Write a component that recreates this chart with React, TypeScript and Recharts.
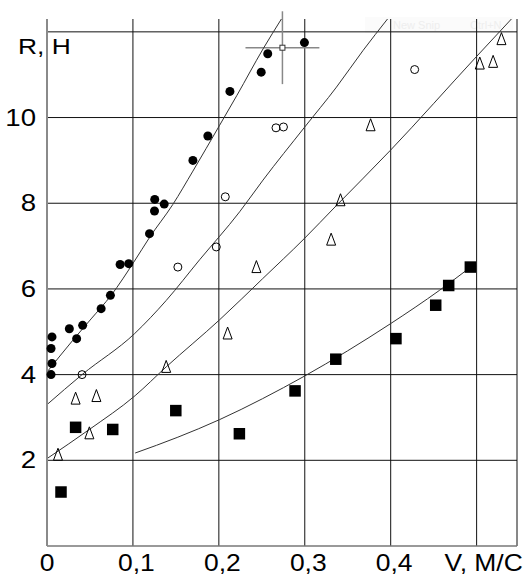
import React from 'react';
import { ComposedChart, Line, Scatter, XAxis, YAxis, ReferenceLine } from 'recharts';

const FONT = '"Liberation Sans", Arial, sans-serif';

const xTicks = [0, 0.1, 0.2, 0.3, 0.4, 0.5];
const xTickLabels = ['0', '0,1', '0,2', '0,3', '0,4', 'V, M/C'];
const yTicks = [2, 4, 6, 8, 10, 12];
const yTickLabels = ['2', '4', '6', '8', '10', 'R, H'];
const xMax = 0.547;
const yMax = 12.3;

// measured points, [V, R]
const filledCircles = [
  [0.0047, 4.0], [0.0058, 4.26], [0.0047, 4.61], [0.0058, 4.88], [0.026, 5.07],
  [0.0345, 4.84], [0.0415, 5.15], [0.063, 5.54], [0.0738, 5.85], [0.0851, 6.57],
  [0.0951, 6.59], [0.1193, 7.29], [0.1251, 7.82], [0.1254, 8.09], [0.1364, 7.98],
  [0.1698, 9.0], [0.1872, 9.57], [0.2129, 10.61], [0.2493, 11.06], [0.2569, 11.49],
  [0.2996, 11.75],
];
const openCircles = [
  [0.0408, 4.0], [0.1523, 6.51], [0.197, 6.98], [0.2075, 8.15], [0.2665, 9.76],
  [0.2752, 9.78], [0.4279, 11.12],
];
const triangles = [
  [0.0128, 2.13], [0.0333, 3.44], [0.0493, 2.63], [0.0575, 3.5], [0.1387, 4.18],
  [0.2102, 4.96], [0.2437, 6.51], [0.3307, 7.15], [0.3416, 8.07], [0.3766, 9.82],
  [0.5037, 11.26], [0.5192, 11.3], [0.5289, 11.83],
];
const squares = [
  [0.0163, 1.26], [0.0333, 2.77], [0.0765, 2.72], [0.1499, 3.16], [0.2239, 2.62],
  [0.2887, 3.62], [0.3361, 4.36], [0.4061, 4.84], [0.4524, 5.62], [0.4675, 6.08],
  [0.4927, 6.51],
];

// fitted curves
const curveCircles = [
  [0, 4.06], [0.03, 4.8], [0.0513, 5.3], [0.0746, 5.85], [0.1018, 6.65], [0.1193, 7.2],
  [0.1464, 7.97], [0.1698, 8.75], [0.2009, 9.82], [0.2211, 10.52], [0.2514, 11.6], [0.2728, 12.3],
];
const curveRings = [
  [0, 3.3], [0.0408, 4.0], [0.1021, 4.96], [0.1387, 5.73], [0.1776, 6.68], [0.2242, 7.8],
  [0.2514, 8.54], [0.2992, 9.76], [0.3369, 10.71], [0.368, 11.57], [0.3963, 12.3],
];
const curveTriangles = [
  [0, 2.04], [0.0493, 2.72], [0.1026, 3.51], [0.1387, 4.18], [0.2009, 5.28], [0.251, 6.24],
  [0.2992, 7.17], [0.3365, 7.94], [0.3999, 9.24], [0.4997, 11.42], [0.5405, 12.3],
];
const curveSquares = [
  [0.1026, 2.17], [0.1523, 2.54], [0.2009, 2.95], [0.251, 3.44], [0.2992, 3.96],
  [0.3999, 5.19], [0.457, 5.97], [0.4924, 6.5],
];

// single point with error cross: [V, R] and half-spans [dV, dR]
const crossPoint = [0.274, 11.63];
const crossSpan = [0.043, 0.85];

const toXY = (pts: number[][]) => pts.map(([x, y]) => ({ x, y }));

function YTick({ x, y, index }: any) {
  const label = yTickLabels[index];
  if (index === yTicks.length - 1) {
    return (
      <text transform={`translate(${x - 29},${y + 22}) scale(1.2,1)`} fontSize={22} fontFamily={FONT} fill="#000">
        {label}
      </text>
    );
  }
  return (
    <text transform={`translate(${x - 11},${y + 8}) scale(1.2,1)`} textAnchor="end" fontSize={23} fontFamily={FONT} fill="#000">
      {label}
    </text>
  );
}

function XTick({ x, y, index }: any) {
  const label = xTickLabels[index];
  const dx = index === 0 ? 0 : index === xTicks.length - 1 ? 7 : 3.5;
  return (
    <text transform={`translate(${x + dx},${y + 25}) scale(1.15,1)`} textAnchor="middle" fontSize={23} fontFamily={FONT} fill="#000">
      {label}
    </text>
  );
}

const Dot = (p: any) => <circle cx={p.cx} cy={p.cy} r={4.5} fill="#000" />;
const Ring = (p: any) => <circle cx={p.cx} cy={p.cy} r={4} fill="none" stroke="#000" strokeWidth={1} />;
const Tri = (p: any) => (
  <path
    d={`M${p.cx},${p.cy - 6.5}L${p.cx + 4.5},${p.cy + 5.5}L${p.cx - 4.5},${p.cy + 5.5}Z`}
    fill="none"
    stroke="#000"
    strokeWidth={1}
  />
);
const Sq = (p: any) => <rect x={p.cx - 5.75} y={p.cy - 5.75} width={11.5} height={11.5} fill="#000" />;
const SmallSq = (p: any) => (
  <rect x={p.cx - 2.5} y={p.cy - 2.5} width={5} height={5} fill="#fff" stroke="#333" strokeWidth={1} />
);

export default function App() {
  const [cx, cy] = crossPoint;
  const [dx, dy] = crossSpan;
  return (
    <div style={{ position: 'absolute', left: 0, top: 0, width: 526, height: 577, background: '#fff' }}>
      <div
        style={{
          position: 'absolute', left: 365, top: 17, width: 148, height: 16, background: '#fbfbfb',
          color: '#eeeeee', fontFamily: FONT, fontSize: 11, lineHeight: '16px',
        }}
      >
        <span style={{ marginLeft: 28 }}>New Snip</span>
        <span style={{ marginLeft: 30 }}>Ctrl+N</span>
      </div>
      <div style={{ position: 'absolute', left: 0, top: 0 }}>
        <ComposedChart width={526} height={577} margin={{ top: 19, right: 9, bottom: 0, left: 0 }}>
          <XAxis
            type="number"
            dataKey="x"
            domain={[0, xMax]}
            ticks={xTicks}
            tick={<XTick />}
            tickLine={false}
            tickSize={0}
            tickMargin={0}
            height={31}
            axisLine={{ stroke: '#777', strokeWidth: 1.5 }}
          />
          <YAxis
            type="number"
            dataKey="y"
            domain={[0, yMax]}
            ticks={yTicks}
            tick={<YTick />}
            tickLine={false}
            tickSize={0}
            tickMargin={0}
            width={47}
            axisLine={{ stroke: '#8a8a8a', strokeWidth: 2 }}
          />
          {xTicks.slice(1).concat([xMax]).map((v) => (
            <ReferenceLine key={'vx' + v} x={v} stroke="#111" strokeWidth={1} />
          ))}
          {yTicks.map((v) => (
            <ReferenceLine key={'hy' + v} y={v} stroke="#111" strokeWidth={1} />
          ))}
          <ReferenceLine
            segment={[{ x: cx - dx, y: cy }, { x: cx + dx, y: cy }]}
            ifOverflow="visible"
            stroke="#888"
            strokeWidth={1.5}
          />
          <ReferenceLine
            segment={[{ x: cx, y: cy - dy }, { x: cx, y: cy + dy }]}
            ifOverflow="visible"
            stroke="#888"
            strokeWidth={1.5}
          />
          <Line data={toXY(curveCircles)} dataKey="y" type="monotone" dot={false} activeDot={false} stroke="#333" strokeWidth={1} isAnimationActive={false} />
          <Line data={toXY(curveRings)} dataKey="y" type="monotone" dot={false} activeDot={false} stroke="#333" strokeWidth={1} isAnimationActive={false} />
          <Line data={toXY(curveTriangles)} dataKey="y" type="monotone" dot={false} activeDot={false} stroke="#333" strokeWidth={1} isAnimationActive={false} />
          <Line data={toXY(curveSquares)} dataKey="y" type="monotone" dot={false} activeDot={false} stroke="#333" strokeWidth={1} isAnimationActive={false} />
          <Scatter data={toXY(filledCircles)} dataKey="y" shape={Dot} isAnimationActive={false} />
          <Scatter data={toXY(openCircles)} dataKey="y" shape={Ring} isAnimationActive={false} />
          <Scatter data={toXY(triangles)} dataKey="y" shape={Tri} isAnimationActive={false} />
          <Scatter data={toXY(squares)} dataKey="y" shape={Sq} isAnimationActive={false} />
          <Scatter data={toXY([crossPoint])} dataKey="y" shape={SmallSq} isAnimationActive={false} />
        </ComposedChart>
      </div>
    </div>
  );
}
